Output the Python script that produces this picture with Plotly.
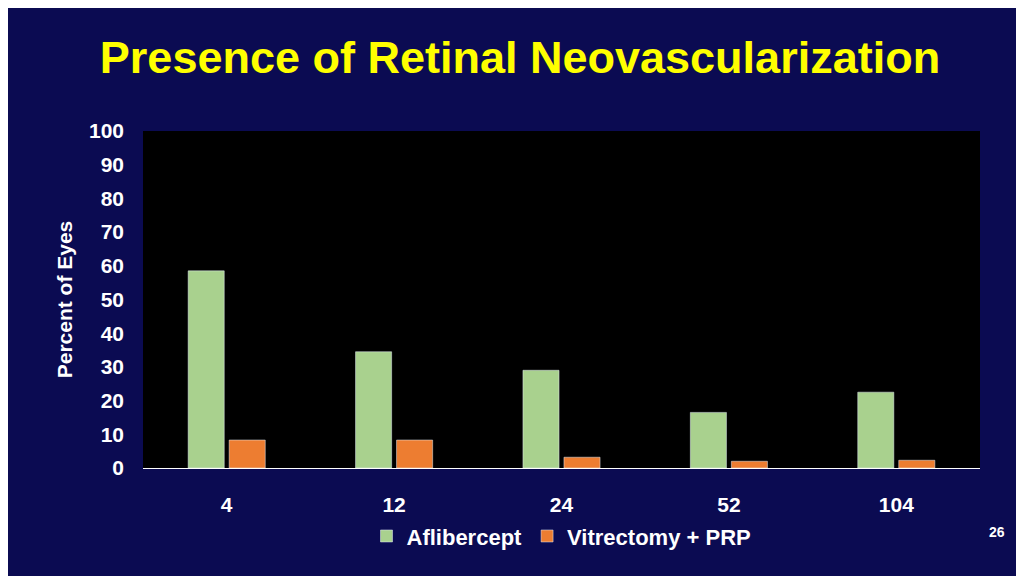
import plotly.graph_objects as go

categories = ["4", "12", "24", "52", "104"]
aflibercept = [58.5, 34.5, 29, 16.5, 22.5]
vitrectomy = [8.3, 8.3, 3.2, 2.0, 2.3]

fig = go.Figure()
fig.add_bar(x=categories, y=aflibercept, name="<b>Aflibercept</b>", marker_color="#a9d18e")
fig.add_bar(x=categories, y=vitrectomy, name="<b>Vitrectomy + PRP</b>", marker_color="#ed7d31")

fam = "Liberation Sans, Arial"
fig.update_layout(
    width=1024, height=576,
    paper_bgcolor="#0b0b52", plot_bgcolor="black",
    margin=dict(l=135, r=52, t=123, b=116),
    barmode="group", bargap=0.51, bargroupgap=0.12,
    font=dict(family=fam, color="white", size=21),
    title=dict(text="<b>Presence of Retinal Neovascularization</b>", x=0.5, xanchor="center",
               y=0.915, yanchor="middle", font=dict(family=fam, size=45, color="#ffff00")),
    legend=dict(orientation="h", x=0.5, xanchor="center", y=-0.14, yanchor="top",
                font=dict(family=fam, size=22, color="white"), itemwidth=30, traceorder="normal"),
)
fig.update_xaxes(tickfont=dict(size=21), ticklabelstandoff=18, showline=True, linecolor="white", linewidth=1,
                 tickprefix="<b>", ticksuffix="</b>")
fig.update_yaxes(range=[0, 100], dtick=10, showgrid=False, zeroline=False, tickfont=dict(size=21),
                 ticklabelstandoff=18, tickprefix="<b>", ticksuffix="</b>",
                 title=dict(text="<b>Percent of Eyes</b>", font=dict(size=21), standoff=10))
fig.add_annotation(text="<b>26</b>", xref="paper", yref="paper", x=1.02, y=-0.22, xanchor="center",
                   showarrow=False, font=dict(size=14, color="white"))
fig.write_html("out.html")
